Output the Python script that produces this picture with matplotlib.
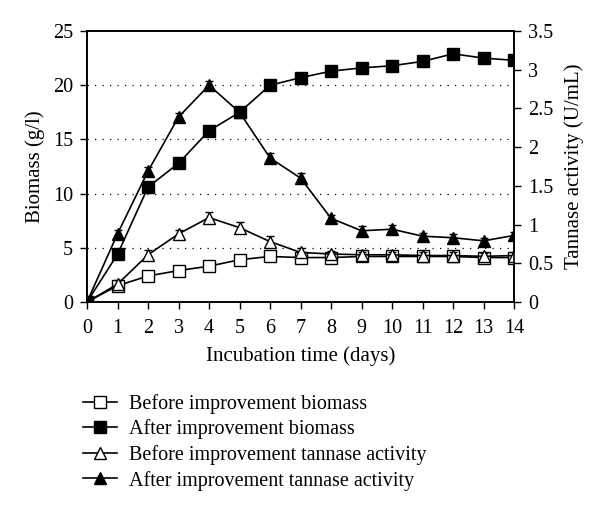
import numpy as np
import matplotlib.pyplot as plt
from matplotlib.ticker import FuncFormatter

plt.rcParams['font.family'] = ['Liberation Serif', 'DejaVu Serif']

# Data
days = list(range(15))
before_biomass = [0, 1.5, 2.4, 2.9, 3.3, 3.9, 4.2, 4.1, 4.1, 4.2, 4.2, 4.2, 4.2, 4.1, 4.1]
after_biomass = [0, 4.4, 10.6, 12.8, 15.8, 17.5, 20.0, 20.7, 21.3, 21.6, 21.8, 22.2, 22.9, 22.5, 22.3]
before_tannase = [0, 0.23, 0.61, 0.88, 1.09, 0.96, 0.78, 0.64, 0.62, 0.61, 0.61, 0.6, 0.6, 0.59, 0.6]
after_tannase = [0, 0.88, 1.69, 2.39, 2.80, 2.45, 1.86, 1.60, 1.08, 0.92, 0.94, 0.85, 0.83, 0.79, 0.86]
before_tannase_err = [0, 0.06, 0.06, 0.05, 0.07, 0.07, 0.07, 0.06, 0.04, 0.04, 0.04, 0.04, 0.04, 0.04, 0.04]
after_tannase_err = [0, 0.05, 0.06, 0.05, 0.06, 0.06, 0.06, 0.06, 0.05, 0.06, 0.06, 0.04, 0.05, 0.04, 0.05]
labels = ['Before improvement biomass', 'After improvement biomass',
          'Before improvement tannase activity', 'After improvement tannase activity']

fig = plt.figure(figsize=(6, 5.09), dpi=100)
ax = fig.add_axes([0.145, 0.4067, 0.712, 0.5323])
ax2 = ax.twinx()

ms = 8.5
l1, = ax.plot(days, before_biomass, '-s', color='black', mfc='white', mec='black',
              ms=ms, lw=1.2, zorder=3)
l2, = ax.plot(days, after_biomass, '-s', color='black', mfc='black',
              ms=ms, lw=1.2, zorder=3)
l3 = ax2.errorbar(days, before_tannase, yerr=before_tannase_err, fmt='-^', color='black',
                  mfc='white', mec='black', ms=ms, lw=1.2, capsize=3, elinewidth=1)
l4 = ax2.errorbar(days, after_tannase, yerr=after_tannase_err, fmt='-^', color='black',
                  mfc='black', ms=ms, lw=1.2, capsize=3, elinewidth=1)

ax.set_xlim(0, 14)
ax.set_ylim(0, 25)
ax2.set_ylim(0, 3.5)
ax.set_xticks(days)
ax.set_yticks([0, 5, 10, 15, 20, 25])
ax2.set_yticks([0, 0.5, 1, 1.5, 2, 2.5, 3, 3.5])
ax2.yaxis.set_major_formatter(FuncFormatter(lambda v, p: f'{v:g}'))

for y in [5, 10, 15, 20]:
    ax.axhline(y, color='black', lw=0.9, ls=(0, (1, 5)), zorder=1)

for a in (ax, ax2):
    a.tick_params(direction='out', length=5, width=1, labelsize=14.5, colors='black', pad=5)
    for s in a.spines.values():
        s.set_linewidth(1.2)
ax.tick_params(axis='x', pad=7)

ax.set_xlabel('Incubation time (days)', fontsize=15, labelpad=6)
ax.set_ylabel('Biomass (g/l)', fontsize=15, labelpad=6)
ax2.set_ylabel('Tannase activity (U/mL)', fontsize=15, labelpad=8)

fig.legend(handles=[l1, l2, l3[0], l4[0]], labels=labels, loc='upper left',
           bbox_to_anchor=(0.138, 0.226), frameon=False, fontsize=14.5,
           handlelength=1.7, handletextpad=0.6, labelspacing=0.28,
           borderaxespad=0, borderpad=0)

fig.savefig('out.png', dpi=100)
